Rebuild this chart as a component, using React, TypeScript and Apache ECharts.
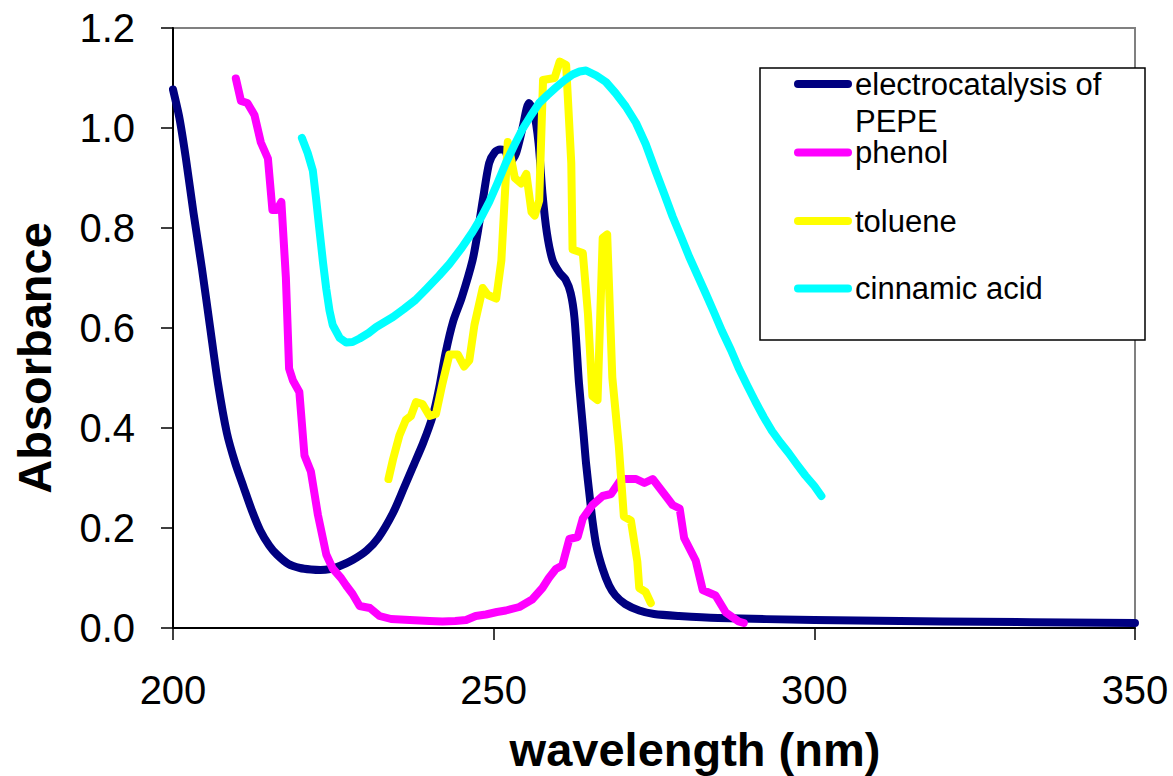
import React, { useEffect, useRef } from "react";
import * as echarts from "echarts";

// ---- data ----
const seriesNames = ["electrocatalysis of PEPE", "phenol", "toluene", "cinnamic acid"];
const seriesColors = ["#000080", "#FF00FF", "#FFFF00", "#00FFFF"];
const xTicks = [200, 250, 300, 350];
const yTicks = [0, 0.2, 0.4, 0.6, 0.8, 1.0, 1.2];

const pepeWl = [200, 201, 202, 203.2, 204.5, 205.8, 207, 208.4, 209.7, 211, 212.3, 213.6, 215, 216.2, 218, 219.8, 221.5, 223, 224.5, 226, 228, 230.2, 232, 234.3, 236, 237.4, 239, 240.5, 241.5, 242.5, 243.7, 245, 246.7, 247.5, 248.3, 249.3, 250.2, 251, 251.8, 252.5, 253.5, 254.5, 255.5, 256.3, 257, 257.6, 258.3, 259.2, 260.3, 261.2, 262, 262.6, 263.3, 264, 264.4, 265, 265.4, 266, 267, 268, 269, 270.5, 272.7, 275, 278.9, 285, 300, 320, 350];
const pepeAbs = [1.077, 1.02, 0.94, 0.83, 0.72, 0.6, 0.49, 0.39, 0.33, 0.282, 0.235, 0.195, 0.165, 0.147, 0.128, 0.12, 0.117, 0.116, 0.118, 0.124, 0.136, 0.155, 0.18, 0.23, 0.28, 0.322, 0.37, 0.424, 0.48, 0.55, 0.614, 0.66, 0.735, 0.79, 0.855, 0.93, 0.952, 0.957, 0.955, 0.93, 0.95, 1.0, 1.05, 1.03, 0.97, 0.87, 0.79, 0.735, 0.71, 0.697, 0.67, 0.62, 0.49, 0.39, 0.33, 0.26, 0.215, 0.165, 0.118, 0.085, 0.065, 0.048, 0.035, 0.028, 0.024, 0.02, 0.016, 0.013, 0.01];

const phenolWl = [209.8, 210.6, 211.6, 212.7, 213.7, 214.8, 215.5, 216.2, 216.9, 217.6, 218.1, 218.7, 219.7, 220.5, 221.5, 222.6, 223.9, 224.9, 226.2, 227, 228, 229.1, 230.7, 232.2, 234, 236.9, 240, 242, 244, 245.7, 247.2, 248.8, 250.5, 251.9, 254, 256, 257.6, 258.6, 259.7, 260.7, 261.8, 263.1, 263.9, 265.4, 267, 268.3, 269.9, 272.2, 273.5, 274.8, 276.9, 277.9, 279, 279.7, 281.5, 282.6, 284.6, 286.2, 288.2, 289];
const phenolAbs = [1.099, 1.054, 1.05, 1.026, 0.971, 0.939, 0.836, 0.836, 0.852, 0.701, 0.519, 0.495, 0.472, 0.345, 0.313, 0.226, 0.147, 0.119, 0.1, 0.085, 0.068, 0.044, 0.04, 0.024, 0.018, 0.016, 0.014, 0.013, 0.014, 0.016, 0.024, 0.027, 0.032, 0.035, 0.042, 0.057, 0.08, 0.1, 0.118, 0.125, 0.178, 0.182, 0.219, 0.246, 0.264, 0.268, 0.298, 0.298, 0.29, 0.298, 0.263, 0.246, 0.239, 0.18, 0.135, 0.076, 0.065, 0.031, 0.013, 0.01];

const tolueneWl = [233.6, 234.3, 235.3, 236.3, 237.1, 237.9, 238.9, 240, 241, 242, 243.1, 244.4, 245.4, 246.2, 247, 248.3, 249.1, 250.4, 251.2, 251.7, 252.2, 253.3, 254.3, 255.1, 255.9, 256.4, 257.1, 257.7, 259.5, 260.3, 261.3, 262.1, 262.3, 263.9, 264.7, 265.4, 266.2, 267, 267.7, 268.5, 269.5, 270.3, 271.4, 272.4, 272.7, 273.7, 274.5];
const tolueneAbs = [0.298, 0.337, 0.385, 0.416, 0.424, 0.452, 0.448, 0.424, 0.428, 0.488, 0.547, 0.547, 0.523, 0.535, 0.606, 0.68, 0.666, 0.659, 0.735, 0.855, 0.972, 0.9, 0.889, 0.908, 0.832, 0.825, 0.855, 1.096, 1.1, 1.133, 1.126, 0.93, 0.757, 0.75, 0.629, 0.464, 0.456, 0.78, 0.787, 0.501, 0.366, 0.223, 0.215, 0.133, 0.08, 0.072, 0.05];

const cinnamicWl = [220.1, 221, 221.8, 222.3, 222.8, 223.4, 223.9, 224.4, 224.9, 226, 227, 228, 229.1, 230.5, 231.7, 233, 234.3, 236, 237.8, 239.5, 241.5, 243.1, 245, 246.7, 248, 249.3, 250.6, 251.9, 253.2, 254.5, 255.8, 257.1, 258.4, 259.7, 261, 262.3, 263.4, 264.4, 266, 267.5, 269, 270.6, 272.2, 273.7, 275.3, 276.6, 277.9, 279.2, 280.5, 281.8, 283.1, 284.4, 285.6, 287, 288.2, 289.5, 290.8, 292.1, 293.4, 294.7, 296, 297.3, 298.6, 300, 301.1];
const cinnamicAbs = [0.98, 0.95, 0.915, 0.86, 0.8, 0.73, 0.678, 0.635, 0.606, 0.58, 0.571, 0.572, 0.579, 0.59, 0.602, 0.612, 0.622, 0.638, 0.656, 0.678, 0.705, 0.728, 0.76, 0.792, 0.82, 0.852, 0.89, 0.93, 0.965, 0.998, 1.025, 1.05, 1.066, 1.081, 1.095, 1.107, 1.113, 1.115, 1.105, 1.092, 1.07, 1.043, 1.01, 0.968, 0.912, 0.868, 0.823, 0.783, 0.742, 0.705, 0.668, 0.63, 0.594, 0.556, 0.52, 0.486, 0.453, 0.422, 0.394, 0.371, 0.35, 0.327, 0.305, 0.284, 0.264];

const zip = (xs: number[], ys: number[]) => xs.map((x, i) => [x, ys[i]]);
const allData = [
  zip(pepeWl, pepeAbs),
  zip(phenolWl, phenolAbs),
  zip(tolueneWl, tolueneAbs),
  zip(cinnamicWl, cinnamicAbs),
];

const FONT = 'Arial, "Liberation Sans", Helvetica, sans-serif';

export default function App() {
  const ref = useRef<HTMLDivElement>(null);
  useEffect(() => {
    document.body.style.margin = "0";
    if (!ref.current) return;
    const chart = echarts.init(ref.current, null, { renderer: "svg" });

    const legendYs = [84, 152.6, 221, 288.5];
    const legendGraphics: any[] = [
      {
        type: "rect",
        shape: { x: 760, y: 68, width: 385, height: 272 },
        style: { fill: "#ffffff", stroke: "#000000", lineWidth: 1.5 },
        z: 100,
      },
    ];
    seriesNames.forEach((name, i) => {
      legendGraphics.push({
        type: "line",
        shape: { x1: 798, y1: legendYs[i], x2: 848, y2: legendYs[i] },
        style: { stroke: seriesColors[i], lineWidth: 8, lineCap: "round" },
        z: 101,
      });
    });
    const legendTexts = [
      ["electrocatalysis of", 84],
      ["PEPE", 121],
      ["phenol", 152.6],
      ["toluene", 221],
      ["cinnamic acid", 288.5],
    ];
    legendTexts.forEach(([t, y]) => {
      legendGraphics.push({
        type: "text",
        x: 855,
        y: y as number,
        style: {
          text: t as string,
          fontSize: 31,
          fontFamily: FONT,
          fill: "#000000",
          align: "left",
          verticalAlign: "middle",
        },
        z: 102,
      });
    });

    chart.setOption({
      animation: false,
      backgroundColor: "#ffffff",
      grid: {
        left: 173,
        right: 38,
        top: 28,
        bottom: 148,
        show: true,
        borderColor: "#808080",
        borderWidth: 2,
        backgroundColor: "transparent",
      },
      xAxis: {
        type: "value",
        min: xTicks[0],
        max: xTicks[xTicks.length - 1],
        interval: 50,
        axisLine: { show: true, onZero: false, lineStyle: { color: "#000000", width: 2 } },
        axisTick: { show: true, inside: false, length: 12, lineStyle: { color: "#000000", width: 1.5 } },
        splitLine: { show: false },
        axisLabel: { fontSize: 40, fontFamily: FONT, color: "#000000", margin: 42 },
      },
      yAxis: {
        type: "value",
        min: yTicks[0],
        max: yTicks[yTicks.length - 1],
        interval: 0.2,
        axisLine: { show: true, onZero: false, lineStyle: { color: "#000000", width: 2 } },
        axisTick: { show: true, inside: false, length: 12, lineStyle: { color: "#000000", width: 1.5 } },
        splitLine: { show: false },
        axisLabel: {
          fontSize: 40,
          fontFamily: FONT,
          color: "#000000",
          margin: 38,
          formatter: (v: number) => v.toFixed(1),
        },
      },
      series: seriesNames.map((name, i) => ({
        name,
        type: "line",
        data: allData[i],
        showSymbol: false,
        symbol: "none",
        smooth: i === 0 ? 0.25 : false,
        clip: true,
        lineStyle: { color: seriesColors[i], width: 8, cap: "round", join: "round" },
        z: 2 + i,
      })),
      graphic: [
        {
          type: "text",
          x: 34,
          y: 358,
          rotation: Math.PI / 2,
          style: {
            text: "Absorbance",
            fontSize: 47,
            fontWeight: "bold",
            fontFamily: FONT,
            fill: "#000000",
            align: "center",
            verticalAlign: "middle",
          },
        },
        {
          type: "text",
          x: 695,
          y: 749,
          style: {
            text: "wavelength (nm)",
            fontSize: 47,
            fontWeight: "bold",
            fontFamily: FONT,
            fill: "#000000",
            align: "center",
            verticalAlign: "middle",
          },
        },
        ...legendGraphics,
      ],
    });
    return () => chart.dispose();
  }, []);
  return <div ref={ref} style={{ width: 1173, height: 776 }} />;
}
